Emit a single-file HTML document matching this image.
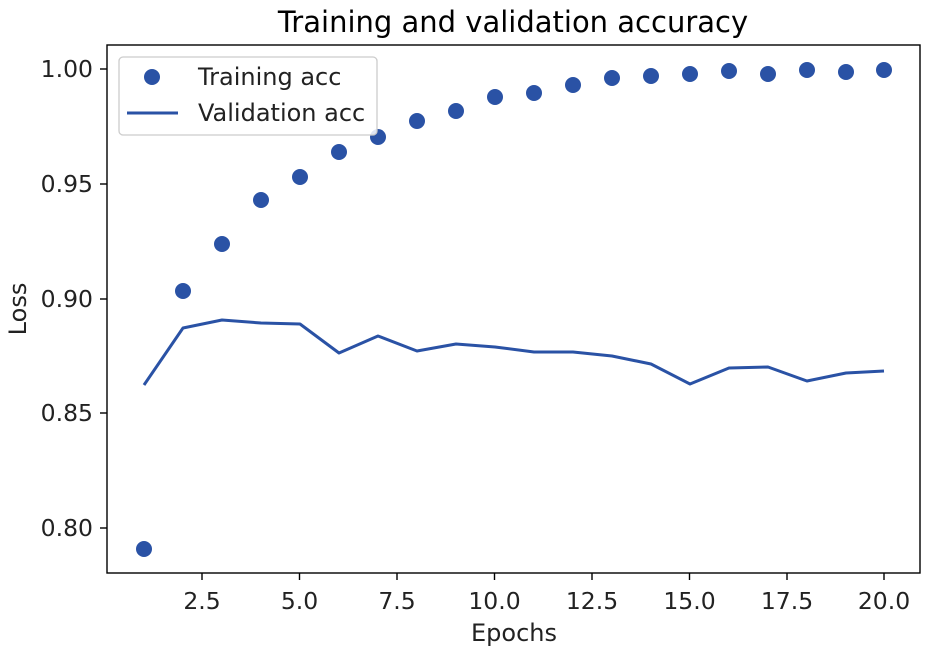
<!DOCTYPE html>
<html><head><meta charset="utf-8"><style>
html,body{margin:0;padding:0;background:#fff}
svg{display:block;font-family:"DejaVu Sans","Liberation Sans",sans-serif}
</style></head><body>
<svg width="930" height="651" viewBox="0 0 930 651" xmlns="http://www.w3.org/2000/svg">
<rect width="930" height="651" fill="#fff"/>
<text x="513" y="32" font-size="29" text-anchor="middle" fill="#000">Training and validation accuracy</text>
<g stroke="#000" stroke-width="1.4">
<line x1="202" y1="573" x2="202" y2="580"/><line x1="299.5" y1="573" x2="299.5" y2="580"/><line x1="397" y1="573" x2="397" y2="580"/><line x1="494.5" y1="573" x2="494.5" y2="580"/><line x1="592" y1="573" x2="592" y2="580"/><line x1="689.5" y1="573" x2="689.5" y2="580"/><line x1="787" y1="573" x2="787" y2="580"/><line x1="884" y1="573" x2="884" y2="580"/>
<line x1="100" y1="69" x2="107" y2="69"/><line x1="100" y1="184" x2="107" y2="184"/><line x1="100" y1="299" x2="107" y2="299"/><line x1="100" y1="413" x2="107" y2="413"/><line x1="100" y1="528" x2="107" y2="528"/>
</g>
<g font-size="23.5" fill="#222" text-anchor="middle">
<text x="202" y="609">2.5</text><text x="299.5" y="609">5.0</text><text x="397" y="609">7.5</text><text x="494.5" y="609">10.0</text><text x="592" y="609">12.5</text><text x="689.5" y="609">15.0</text><text x="787" y="609">17.5</text><text x="884" y="609">20.0</text>
</g>
<g font-size="23.5" fill="#222" text-anchor="end">
<text x="93" y="77">1.00</text><text x="93" y="192">0.95</text><text x="93" y="307">0.90</text><text x="93" y="421">0.85</text><text x="93" y="536">0.80</text>
</g>
<text x="514" y="641" font-size="24" text-anchor="middle" fill="#222">Epochs</text>
<text transform="translate(26,309) rotate(-90)" font-size="24" text-anchor="middle" fill="#222">Loss</text>
<polyline fill="none" stroke="#2a52a5" stroke-width="3" stroke-linejoin="round" points="144,385 183,328 222,320 261,323 300,324 339,353 378,336 417,351 456,344 495,347 534,352 573,352 612,356 651,364 690,384 729,368 768,367 807,381 846,373 884,371"/>
<g fill="#2a52a5">
<circle cx="144" cy="549" r="8"/><circle cx="183" cy="291" r="8"/><circle cx="222" cy="244" r="8"/><circle cx="261" cy="200" r="8"/><circle cx="300" cy="177" r="8"/><circle cx="339" cy="152" r="8"/><circle cx="378" cy="137" r="8"/><circle cx="417" cy="121" r="8"/><circle cx="456" cy="111" r="8"/><circle cx="495" cy="97" r="8"/><circle cx="534" cy="93" r="8"/><circle cx="573" cy="85" r="8"/><circle cx="612" cy="78" r="8"/><circle cx="651" cy="76" r="8"/><circle cx="690" cy="74" r="8"/><circle cx="729" cy="71" r="8"/><circle cx="768" cy="74" r="8"/><circle cx="807" cy="70" r="8"/><circle cx="846" cy="72" r="8"/><circle cx="884" cy="70" r="8"/>
</g>
<rect x="107" y="45" width="813" height="528" fill="none" stroke="#000" stroke-width="1.4"/>
<rect x="119" y="57" width="258" height="78" rx="4" fill="#fff" fill-opacity="0.85" stroke="#ccc" stroke-width="1.3"/>
<circle cx="152" cy="77" r="8" fill="#2a52a5"/>
<line x1="127" y1="113" x2="178" y2="113" stroke="#2a52a5" stroke-width="3"/>
<text x="198" y="85" font-size="24" fill="#222">Training acc</text>
<text x="198" y="121" font-size="24" fill="#222">Validation acc</text>
</svg>
</body></html>
